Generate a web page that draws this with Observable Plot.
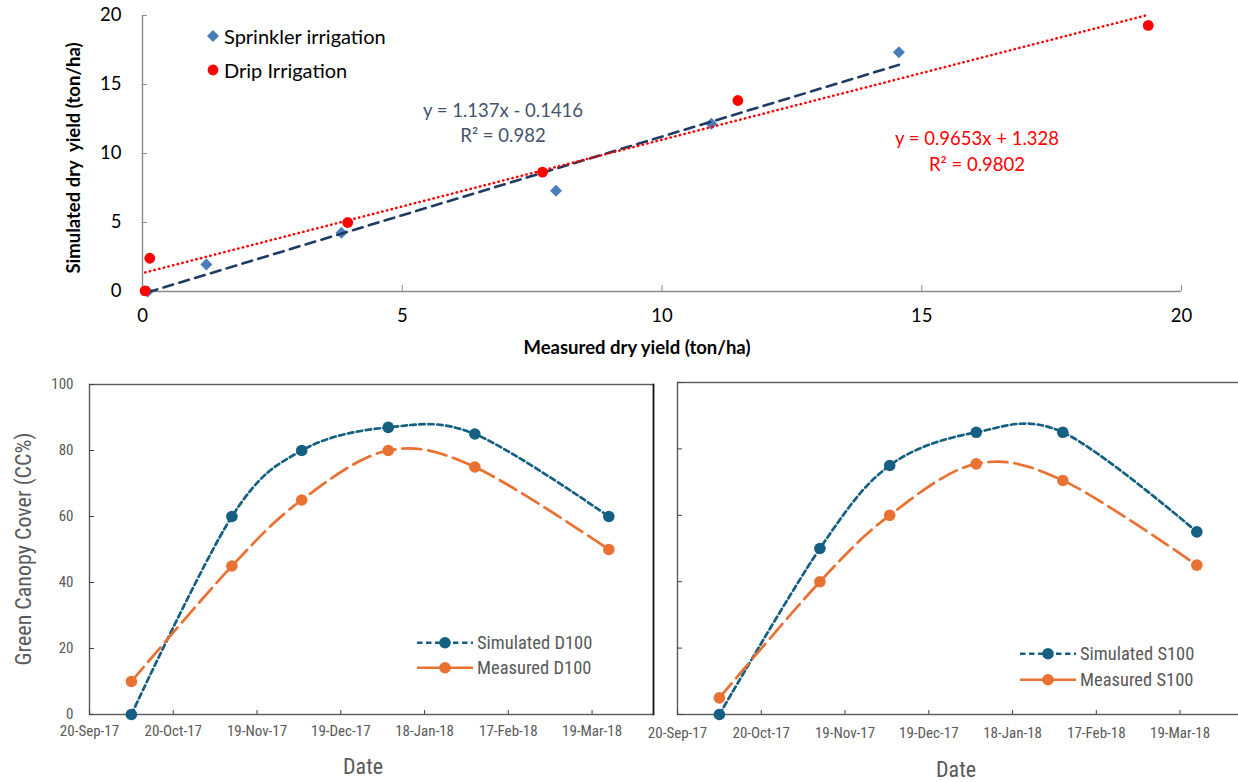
<!DOCTYPE html>
<html><head><meta charset="utf-8">
<script src="https://cdn.jsdelivr.net/npm/d3@7"></script>
<script src="https://cdn.jsdelivr.net/npm/@observablehq/plot@0.6"></script>
<style>
html,body{margin:0;padding:0;background:#fff;overflow:hidden;}
#root{position:relative;width:1238px;height:782px;overflow:hidden;}
#root > svg{position:absolute;overflow:visible;}
.lbl{position:absolute;white-space:pre;transform:translate(-50%,-50%);line-height:1;}
.leg{position:absolute;white-space:pre;display:flex;align-items:center;line-height:1;}
</style></head><body><div id="root"></div>
<script>
// ---------- Top chart data (measured vs simulated dry yield, ton/ha) ----------
const seriesNames = ["Sprinkler irrigation", "Drip Irrigation"];
const sprinklerMeasured  = [0.10, 1.23, 3.83, 7.96, 10.95, 14.56];
const sprinklerSimulated = [0.00, 1.96, 4.25, 7.30, 12.15, 17.34];
const dripMeasured  = [0.05, 0.14, 3.95, 7.70, 11.46, 19.36];
const dripSimulated = [0.05, 2.41, 5.00, 8.65, 13.84, 19.28];
const yieldTicks = [0, 5, 10, 15, 20];
const sprinklerEquation = ["y = 1.137x - 0.1416", "R² = 0.982"];
const dripEquation = ["y = 0.9653x + 1.328", "R² = 0.9802"];

// ---------- Bottom charts data (green canopy cover, %) ----------
const sampleDates = ["2017-10-05", "2017-11-10", "2017-12-05", "2018-01-05", "2018-02-05", "2018-03-25"];
const simulatedD100 = [0, 60, 80, 87, 85, 60];
const measuredD100  = [10, 45, 65, 80, 75, 50];
const simulatedS100 = [0, 50, 75, 85, 85, 55];
const measuredS100  = [5, 40, 60, 75.5, 70.5, 45];
const dateTicks = ["2017-09-20", "2017-10-20", "2017-11-19", "2017-12-19", "2018-01-18", "2018-02-17", "2018-03-19"];
const dateDomain = ["2017-09-20", "2018-04-10"];
const ccTicks = [0, 20, 40, 60, 80, 100];

const root = document.getElementById("root");
function place(el, left, top) { el.style.left = left + "px"; el.style.top = top + "px"; root.appendChild(el); }
function label(text, cx, cy, css, rotate) {
  const d = document.createElement("div");
  d.className = "lbl"; d.textContent = text;
  Object.assign(d.style, css);
  if (rotate) d.style.transform = "translate(-50%,-50%) rotate(-90deg)";
  place(d, cx, cy);
}

// ---------- Top scatter ----------
const sprinkler = sprinklerMeasured.map((x, i) => ({x, y: sprinklerSimulated[i]}));
const drip = dripMeasured.map((x, i) => ({x, y: dripSimulated[i]}));
const axisGray = "#8c8c8c";
const topChart = Plot.plot({
  width: 1238, height: 345,
  marginLeft: 142, marginRight: 57, marginTop: 15, marginBottom: 54,
  style: {fontFamily: "Lato, sans-serif", fontSize: "18.5px", color: "#000", background: "transparent"},
  x: {domain: [0, 20]},
  y: {domain: [0, 20]},
  marks: [
    Plot.ruleY([0], {stroke: axisGray, strokeWidth: 1.4}),
    Plot.ruleX([0], {stroke: axisGray, strokeWidth: 1.4}),
    Plot.axisX(yieldTicks, {tickSize: -6, tickPadding: 23, stroke: axisGray, fill: "#000", label: null}),
    Plot.axisY(yieldTicks, {tickSize: -5, tickPadding: 26, stroke: axisGray, fill: "#000", label: null}),
    Plot.dot(sprinkler, {x: "x", y: "y", symbol: "diamond2", r: 5.4, fill: "#4A7EBB", stroke: "none"}),
    Plot.linearRegressionY(sprinkler, {x: "x", y: "y", ci: 0, stroke: "#1F3B63", strokeWidth: 2.6, strokeDasharray: "10,6.5"}),
    Plot.dot(drip, {x: "x", y: "y", symbol: "circle", r: 5.4, fill: "#FF0000", stroke: "none"}),
    Plot.linearRegressionY(drip, {x: "x", y: "y", ci: 0, stroke: "#FF0000", strokeWidth: 2.5, strokeLinecap: "round", strokeDasharray: "0.4,4.4"})
  ]
});
place(topChart, 0, 0);

// top legend
function legendItem(symbolSvg, text, left, cy, css) {
  const d = document.createElement("div");
  d.className = "leg";
  d.innerHTML = symbolSvg;
  const s = document.createElement("span"); s.textContent = text; d.appendChild(s);
  Object.assign(d.style, css);
  d.style.transform = "translateY(-50%)";
  place(d, left, cy);
}
const topLegendCss = {fontFamily: "Lato, sans-serif", fontSize: "20px", color: "#000", gap: "4px"};
legendItem('<svg width="14" height="14"><path d="M7,1L13,7L7,13L1,7Z" fill="#4A7EBB"/></svg>', seriesNames[0], 206, 36, topLegendCss);
legendItem('<svg width="14" height="14"><circle cx="7" cy="7" r="5.4" fill="#FF0000"/></svg>', seriesNames[1], 206, 70, topLegendCss);

const eqCss = {fontFamily: "Lato, sans-serif", fontSize: "18.5px"};
label(sprinklerEquation[0], 503, 110, {...eqCss, color: "#44546A"});
label(sprinklerEquation[1], 503, 135, {...eqCss, color: "#44546A"});
label(dripEquation[0], 977, 138, {...eqCss, color: "#FF0000"});
label(dripEquation[1], 977, 164, {...eqCss, color: "#FF0000"});

const titleCss = {fontFamily: "Lato, sans-serif", fontSize: "18.5px", fontWeight: "bold", color: "#000"};
label("Measured dry yield (ton/ha)", 637, 347, titleCss);
label("Simulated dry  yield (ton/ha)", 73, 158, titleCss, true);

// ---------- Bottom canopy charts ----------
const simColor = "#156082", measColor = "#E97132";
const narrow = "'Liberation Sans Narrow', 'Roboto Condensed', 'DejaVu Sans Condensed', Roboto, sans-serif";
const fmt = d3.utcFormat("%d-%b-%y");
function canopyChart(sim, meas, ml, frameH, showY, xPad, rightStroke) {
  const data = sampleDates.map((d, i) => ({date: new Date(d), sim: sim[i], meas: meas[i]}));
  return Plot.plot({
    width: ml + 564 + 2, height: 10 + frameH + 34,
    marginLeft: ml, marginRight: 2, marginTop: 10, marginBottom: 34,
    style: {fontFamily: narrow, fontSize: "15px", color: "#595959", background: "transparent"},
    x: {type: "utc", domain: dateDomain.map(d => new Date(d))},
    y: {domain: [0, 100]},
    marks: [
      Plot.frame({stroke: "#595959", strokeWidth: 1.4}),
      rightStroke ? Plot.frame({anchor: "right", stroke: "#111", strokeWidth: 1.6}) : null,
      Plot.axisX(dateTicks.map(d => new Date(d)), {tickSize: -4, tickPadding: xPad, tickFormat: fmt, stroke: "#404040", fill: "#595959", label: null}),
      Plot.axisY(ccTicks, {tickSize: -5, tickPadding: 21, tickFormat: showY ? d => String(d) : () => "", stroke: "#404040", fill: "#595959", label: null}),
      Plot.line(data, {x: "date", y: "sim", stroke: simColor, strokeWidth: 2.7, strokeDasharray: "5.5,3.5", curve: "cardinal", tension: 0}),
      Plot.line(data, {x: "date", y: "meas", stroke: measColor, strokeWidth: 2.7, strokeDasharray: "19,7", curve: "cardinal", tension: 0}),
      Plot.dot(data, {x: "date", y: "sim", r: 5.8, fill: simColor, stroke: "none"}),
      Plot.dot(data, {x: "date", y: "meas", r: 5.8, fill: measColor, stroke: "none"})
    ]
  });
}
const left = canopyChart(simulatedD100, measuredD100, 89, 330, true, 15, true);
place(left, 0, 374);
const right = canopyChart(simulatedS100, measuredS100, 37, 332, false, 17, false);
place(right, 640, 372);

const botCss = {fontFamily: narrow, fontSize: "22px", color: "#595959"};
label("Green Canopy Cover (CC%)", 24, 549, botCss, true);
label("Date", 363, 767, botCss);
label("Date", 956, 770, botCss);

const legCss = {fontFamily: narrow, fontSize: "18.5px", color: "#595959", gap: "4px"};
const simGlyph = `<svg width="56" height="14"><line x1="0" y1="7" x2="56" y2="7" stroke="${simColor}" stroke-width="2.7" stroke-dasharray="5.5,3.5"/><circle cx="28" cy="7" r="5.8" fill="${simColor}"/></svg>`;
const measGlyph = `<svg width="56" height="14"><line x1="0" y1="7" x2="56" y2="7" stroke="${measColor}" stroke-width="2.7"/><circle cx="28" cy="7" r="5.8" fill="${measColor}"/></svg>`;
legendItem(simGlyph, "Simulated D100", 417, 643, legCss);
legendItem(measGlyph, "Measured D100", 417, 668, legCss);
legendItem(simGlyph, "Simulated S100", 1020, 654, legCss);
legendItem(measGlyph, "Measured S100", 1020, 680, legCss);
</script></body></html>
